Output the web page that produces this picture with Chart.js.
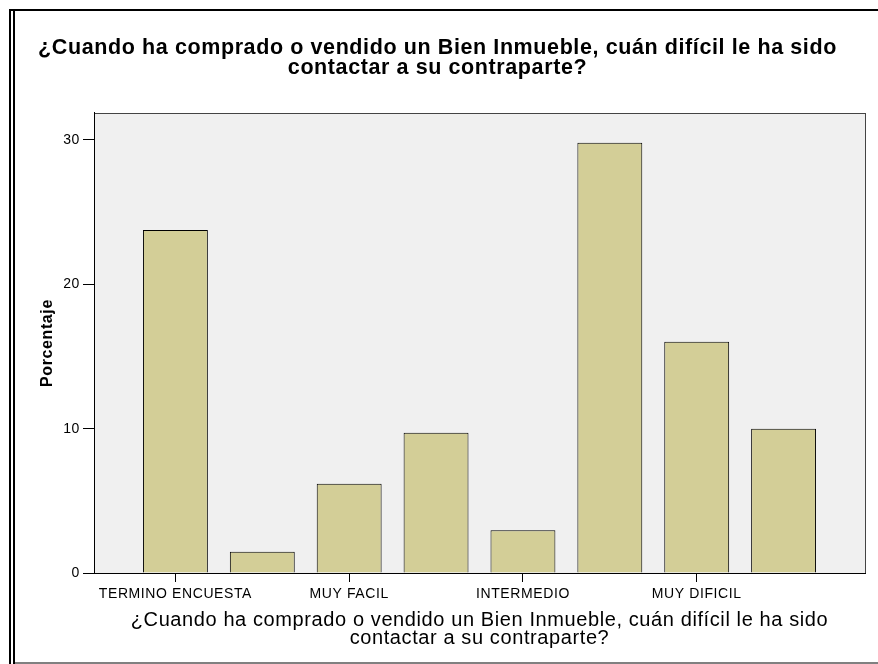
<!DOCTYPE html>
<html>
<head>
<meta charset="utf-8">
<script src="https://cdn.jsdelivr.net/npm/chart.js@4"></script>
<style>
  html, body { margin: 0; padding: 0; background: #fff; }
  #wrap { width: 878px; height: 664px; }
</style>
</head>
<body>
<div id="wrap"><canvas id="chart"></canvas></div>
<script>
// data
const categories = ["TERMINO ENCUESTA", "NS/NR", "MUY FACIL", "FACIL", "INTERMEDIO", "DIFICIL", "MUY DIFICIL", "NO APLICA"];
const percentages = [23.77, 1.47, 6.19, 9.72, 2.96, 29.81, 16.02, 10.0];
const yTicks = [0, 10, 20, 30];
const shownLabels = [0, 2, 4, 6]; // SPSS only prints every other label

const titleLines = [
  "¿Cuando ha comprado o vendido un Bien Inmueble, cuán difícil le ha sido",
  "contactar a su contraparte?"
];

const FONT = "'Liberation Sans', Arial, sans-serif";

// grey plot box + outer frame
const framePlugin = {
  id: "frame",
  beforeDraw(chart) {
    const { ctx, chartArea: a } = chart;
    ctx.letterSpacing = "0.6px"; // SPSS text is a bit spaced out
    ctx.save();
    ctx.fillStyle = "#F0F0F0";
    ctx.fillRect(a.left, a.top, a.right - a.left, a.bottom - a.top);
    ctx.strokeStyle = "#444";
    ctx.lineWidth = 1;
    ctx.strokeRect(Math.round(a.left) + 0.5, Math.round(a.top) + 0.5,
      Math.round(a.right - a.left), Math.round(a.bottom - a.top));
    ctx.restore();
  },
  afterDraw(chart) {
    const ctx = chart.ctx;
    ctx.letterSpacing = "0px";
    ctx.save();
    ctx.fillStyle = "#000";
    ctx.fillRect(9, 9, 869, 2);
    ctx.fillRect(9, 9, 2, 655);
    ctx.fillRect(13, 11, 2, 653);
    ctx.fillStyle = "#808080";
    ctx.fillRect(15, 662, 863, 2);
    ctx.restore();
  }
};

new Chart(document.getElementById("chart"), {
  type: "bar",
  data: {
    datasets: [{
      label: "Porcentaje",
      data: percentages.map((v, i) => ({ x: i, y: v })),
      backgroundColor: "#D3CE97",
      borderColor: "#000",
      borderWidth: 1,
      barPercentage: 0.747,
      categoryPercentage: 1
    }]
  },
  options: {
    responsive: true,
    maintainAspectRatio: false,
    animation: false,
    layout: { padding: { left: 10, right: 13, top: 0, bottom: 11 } },
    plugins: {
      legend: { display: false },
      tooltip: { enabled: false },
      title: {
        display: true,
        text: titleLines,
        color: "#000",
        font: { family: FONT, size: 21.5, weight: "bold", lineHeight: 0.93 },
        padding: { top: 38, bottom: 35 }
      }
    },
    scales: {
      x: {
        type: "linear",
        min: -0.937,
        max: 7.937,
        offset: false,
        afterBuildTicks: s => { s.ticks = shownLabels.map(i => ({ value: i })); },
        afterFit: s => { s.height = 80; },
        grid: { offset: false, drawOnChartArea: false, drawTicks: true, tickLength: 9, color: "#000" },
        border: { display: true, color: "#000", width: 1 },
        ticks: {
          color: "#000",
          font: { family: FONT, size: 14 },
          padding: 4,
          maxRotation: 0,
          autoSkip: false,
          callback: v => categories[v]
        },
        title: {
          display: true,
          text: titleLines,
          color: "#000",
          font: { family: FONT, size: 20, lineHeight: 0.9 },
          padding: { top: 0, bottom: 6 }
        }
      },
      y: {
        min: 0,
        max: 31.87,
        afterBuildTicks: s => { s.ticks = yTicks.map(v => ({ value: v })); },
        afterFit: s => { s.width = 84; },
        grid: { drawOnChartArea: false, drawTicks: true, tickLength: 11, color: "#000" },
        border: { display: true, color: "#000", width: 1 },
        ticks: {
          color: "#000",
          font: { family: FONT, size: 14 },
          padding: 3
        },
        title: {
          display: true,
          text: "Porcentaje",
          color: "#000",
          font: { family: FONT, size: 16, weight: "bold", lineHeight: 1.0 },
          padding: { top: 30, bottom: 0 }
        }
      }
    }
  },
  plugins: [framePlugin]
});
</script>
</body>
</html>
